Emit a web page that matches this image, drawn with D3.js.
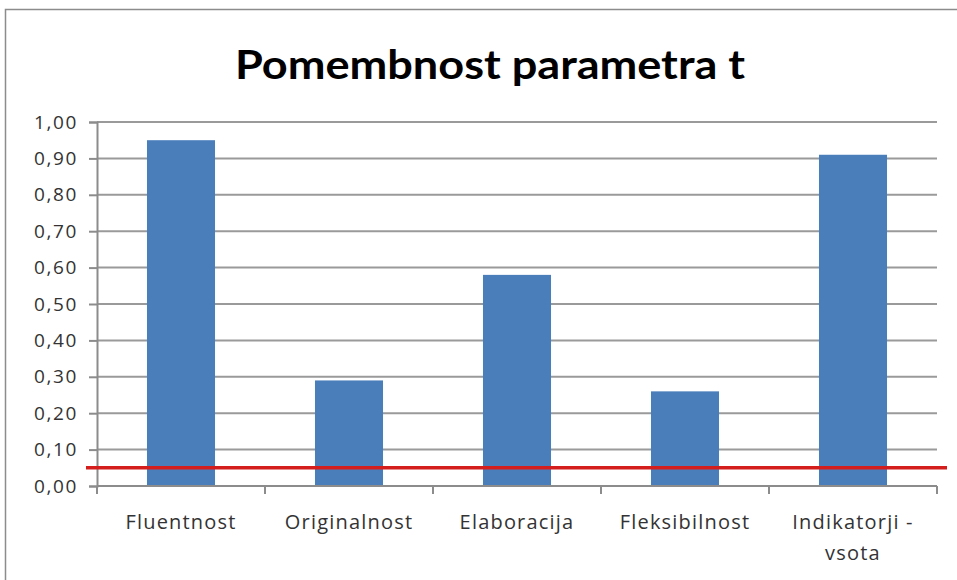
<!DOCTYPE html>
<html>
<head>
<meta charset="utf-8">
<script src="https://cdn.jsdelivr.net/npm/d3@7"></script>
<style>
  body { margin: 0; background: #fff; }
  svg { display: block; }
</style>
</head>
<body>
<div id="chart"></div>
<script>
const categories = ["Fluentnost", "Originalnost", "Elaboracija", "Fleksibilnost", "Indikatorji - vsota"];
const values = [0.95, 0.29, 0.58, 0.26, 0.91];
const yTicks = [0, 0.1, 0.2, 0.3, 0.4, 0.5, 0.6, 0.7, 0.8, 0.9, 1.0];
const threshold = 0.05;
const title = "Pomembnost parametra t";

const W = 957, H = 580;
const margin = { top: 122, right: 20, bottom: 94, left: 97 };
const width = W - margin.left - margin.right;
const height = H - margin.top - margin.bottom;

const svg = d3.select("#chart").append("svg")
    .attr("width", W)
    .attr("height", H);

// okvir grafa
svg.append("rect")
    .attr("x", 5.5).attr("y", 9.5)
    .attr("width", W).attr("height", H)
    .attr("fill", "#fff")
    .attr("stroke", "#8c8c8c")
    .attr("stroke-width", 1.5);

svg.append("text")
    .attr("x", 490)
    .attr("y", 79)
    .attr("text-anchor", "middle")
    .attr("font-family", "Lato, 'Open Sans', sans-serif")
    .attr("font-weight", "bold")
    .attr("font-size", 41)
    .attr("fill", "#000")
    .attr("textLength", 510)
    .attr("lengthAdjust", "spacingAndGlyphs")
    .text(title);

const g = svg.append("g")
    .attr("transform", `translate(${margin.left},${margin.top})`);

const x = d3.scaleBand()
    .domain(categories)
    .range([0, width])
    .paddingInner(0.595)
    .paddingOuter(0.2975);

const y = d3.scaleLinear()
    .domain([0, 1])
    .range([height, 0]);

// mreža
g.append("g")
    .selectAll("line")
    .data(yTicks.filter(d => d > 0))
    .enter()
    .append("line")
    .attr("x1", 0).attr("x2", width)
    .attr("y1", d => y(d)).attr("y2", d => y(d))
    .attr("stroke", "#9a9a9a")
    .attr("stroke-width", 2);

// os y
const yAxis = g.append("g")
    .call(d3.axisLeft(y).tickValues(yTicks).tickSize(8).tickPadding(11)
        .tickFormat(d => d3.format(".2f")(d).replace(".", ",")));
yAxis.select(".domain").attr("stroke", "#8c8c8c").attr("stroke-width", 2);
yAxis.selectAll(".tick line").attr("stroke", "#8c8c8c").attr("stroke-width", 2);
yAxis.selectAll("text")
    .attr("font-family", "'Open Sans', sans-serif")
    .attr("font-size", 19)
    .attr("letter-spacing", 1.6)
    .attr("fill", "#333");

// stolpci
g.append("g")
    .selectAll(".bar")
    .data(values)
    .enter()
    .append("rect")
    .attr("class", "bar")
    .attr("x", (d, i) => x(categories[i]))
    .attr("y", d => y(d))
    .attr("width", x.bandwidth())
    .attr("height", d => height - y(d))
    .attr("fill", "#4a7ebb");

// os x
const step = x.step();
const xg = g.append("g").attr("transform", `translate(0,${height})`);
xg.append("line")
    .attr("x1", 0).attr("x2", width)
    .attr("stroke", "#8c8c8c").attr("stroke-width", 2);
xg.selectAll(".tk")
    .data(d3.range(categories.length + 1))
    .enter()
    .append("line")
    .attr("x1", i => i * step).attr("x2", i => i * step)
    .attr("y1", 0).attr("y2", 8)
    .attr("stroke", "#8c8c8c").attr("stroke-width", 2);

const labels = xg.selectAll(".lbl")
    .data(categories)
    .enter()
    .append("text")
    .attr("text-anchor", "middle")
    .attr("font-family", "'Open Sans', sans-serif")
    .attr("font-size", 20)
    .attr("letter-spacing", 1.2)
    .attr("fill", "#333")
    .attr("y", 43);
labels.each(function(d) {
    const el = d3.select(this);
    const cx = x(d) + x.bandwidth() / 2;
    const parts = d.length > 15 ? ["Indikatorji -", "vsota"] : [d];
    parts.forEach((p, i) => {
        el.append("tspan")
            .attr("x", cx)
            .attr("dy", i === 0 ? 0 : 31)
            .text(p);
    });
});

// meja značilnosti
g.append("line")
    .attr("x1", -11).attr("x2", width + 10)
    .attr("y1", y(threshold)).attr("y2", y(threshold))
    .attr("stroke", "#d41e1e")
    .attr("stroke-width", 3.5);
</script>
</body>
</html>
